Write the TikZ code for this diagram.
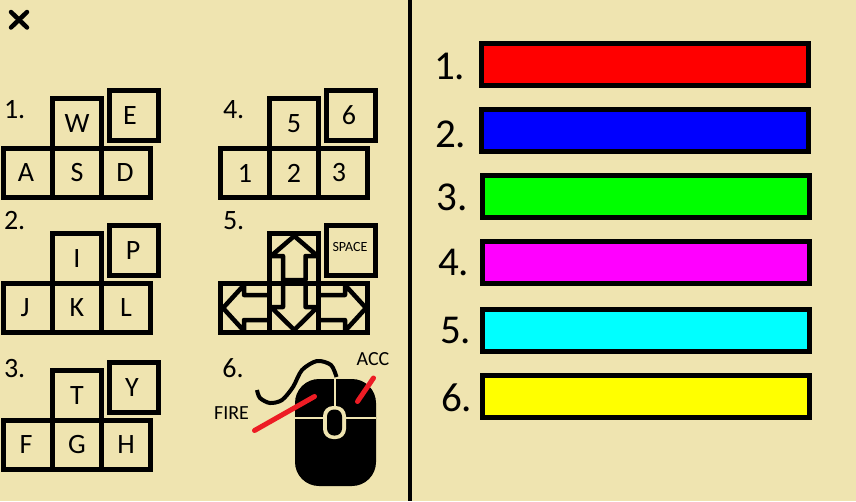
\documentclass[tikz,border=0pt]{standalone}
\usepackage{fontspec}
\setmainfont{Carlito}
\usepackage{xcolor}
\usepackage{tikz}
\usetikzlibrary{positioning}
\definecolor{paper}{RGB}{239, 228, 176}
\definecolor{markred}{RGB}{237, 28, 36}
\definecolor{barred}{RGB}{255, 0, 0}
\definecolor{barblue}{RGB}{0, 0, 255}
\definecolor{bargreen}{RGB}{0, 255, 0}
\definecolor{barmagenta}{RGB}{255, 0, 255}
\definecolor{barcyan}{RGB}{0, 255, 255}
\definecolor{baryellow}{RGB}{255, 255, 0}
\newcommand{\fsz}[1]{\fontsize{#1}{#1}\selectfont}
\newcommand{\nudgekey}[2]{\kern-#1\relax #2}

\begin{document}
\begin{tikzpicture}[
      x=1pt, y=-1pt,
      keybox/.style={
        rectangle, draw=black, line width=5pt, outer sep=0pt, inner sep=0pt,
        minimum width=49pt, minimum height=49.5pt,
        font=\fsz{28}, text=black, align=center
      },
      barbox/.style={
        rectangle, draw=black, line width=5pt, outer sep=0pt,
        minimum width=327pt, minimum height=42pt
      },
      smallnum/.style={inner sep=0pt, font=\fsz{28}, text=black},
      bignum/.style={inner sep=0pt, font=\fsz{41}, text=black},
      marklabel/.style={inner sep=0pt, font=\fsz{20}, text=black},
      keyarrow/.style={draw=black, line width=4.5pt, line join=round},
      markline/.style={draw=markred, line width=5pt, line cap=round}
  ]
    \fill[paper] (0,0) rectangle (856,501);
    \useasboundingbox (0,0) rectangle (856,501);

    % close mark and divider
    \draw[line width=4.5pt, line cap=round] (11,12) -- (27,27.5);
    \draw[line width=4.5pt, line cap=round] (27,12) -- (11,27.5);
    \draw[line width=4pt] (410,0) -- (410,501);

    % key group 1
    \node[keybox] (a) at (28,173) {\nudgekey{4pt}{A}};
    \node[keybox] (s) [right=0pt of a] {S};
    \node[keybox] (d) [right=0pt of s] {\nudgekey{2pt}{D}};
    \node[keybox] (w) [above=0pt of s] {W};
    \node[keybox] (e) [right=8pt of w, yshift=8pt] {\nudgekey{8pt}{E}};
    \node[smallnum] (num1) [left=27pt of w, yshift=14pt] {1.};

    % key group 2
    \node[keybox] (j) at (28,308) {\nudgekey{6pt}{J}};
    \node[keybox] (k) [right=0pt of j] {K};
    \node[keybox] (l) [right=0pt of k] {L};
    \node[keybox] (i) [above=0pt of k] {I};
    \node[keybox] (p) [right=8pt of i, yshift=8pt] {\nudgekey{2pt}{P}};
    \node[smallnum] (num2) [left=27pt of i, yshift=38pt] {2.};

    % key group 3
    \node[keybox] (f) at (28,445) {\nudgekey{4pt}{F}};
    \node[keybox] (g) [right=0pt of f] {G};
    \node[keybox] (h) [right=0pt of g] {H};
    \node[keybox] (t) [above=0pt of g] {T};
    \node[keybox] (y) [right=8pt of t, yshift=8pt] {\nudgekey{4pt}{Y}};
    \node[smallnum] (num3) [left=27pt of t, yshift=26.5pt] {3.};

    % key group 4
    \node[keybox] (k1) at (245,173) {1};
    \node[keybox] (k2) [right=0pt of k1] {2};
    \node[keybox] (k3) [right=0pt of k2] {\nudgekey{8pt}{3}};
    \node[keybox] (k5) [above=0pt of k2] {5};
    \node[keybox] (k6) [right=8pt of k5, yshift=8pt] {\nudgekey{4pt}{6}};
    \node[smallnum] (num4) [left=25pt of k5, yshift=14pt] {4.};

    % key group 5
    \node[keybox] (left) at (245,308) {};
    \node[keybox] (down) [right=0pt of left] {};
    \node[keybox] (right) [right=0pt of down] {};
    \node[keybox] (up) [above=0pt of down] {};
    \node[keybox, font=\fsz{14}] (space) [right=8pt of up, yshift=8pt] {\raisebox{7pt}{\nudgekey{2pt}{SPACE}}};
    \node[smallnum] (num5) [left=25pt of up, yshift=38pt] {5.};
    \draw[keyarrow] (283,280) -- (283,256) -- (271,256) -- (294.25,236) -- (317.5,256) -- (305.5,256) -- (305.5,280) -- cycle;
    \draw[keyarrow] (283,283) -- (283,307) -- (271,307) -- (294.25,330) -- (317.5,307) -- (305.5,307) -- (305.5,283);
    \draw[keyarrow] (267,295) -- (244,295) -- (244,285) -- (223,308) -- (244,331) -- (244,320) -- (267,320);
    \draw[keyarrow] (321,295) -- (345,295) -- (345,285) -- (366,308) -- (345,331) -- (345,320) -- (321,320);

    % mouse
    \node[smallnum] (num6) at (233,368.5) {6.};
    \fill[black, rounded corners=24pt] (295,379) rectangle (376,486);
    \draw[paper, line width=2pt] (335,379) -- (335,408);
    \draw[paper, line width=2pt] (295,418) -- (376,418);
    \fill[paper, rounded corners=10pt] (323,406) rectangle (346,439);
    \fill[black, rounded corners=7pt] (327,409.5) rectangle (342,435.5);
    \draw[paper, line width=6pt] plot[smooth] coordinates {(300,370) (293,387) (282,400)};
    \draw[black, line width=4pt] plot[smooth] coordinates {(336.5,377) (331,365) (317,361) (302,370) (293,387) (282,400) (270,403) (260,398) (257,390)};

    % mouse marks
    \node[marklabel] (fire) at (231.5,413) {FIRE};
    \node[marklabel] (acc) at (373,359) {ACC};
    \coordinate (firestart) at (254.5,430.5);
    \coordinate (fireend) at (314.5,396.5);
    \coordinate (accstart) at (357.5,401.5);
    \coordinate (accend) at (373.5,378);
    \draw[markline] (firestart) -- (fireend);
    \draw[markline] (accstart) -- (accend);

    % colour bars
    \node[barbox, fill=barred] (bar1) at (645,64.5) {};
    \node[barbox, fill=barblue] (bar2) [below=24pt of bar1] {};
    \node[barbox, fill=bargreen] (bar3) [below=24pt of bar2, xshift=1pt] {};
    \node[barbox, fill=barmagenta] (bar4) [below=24pt of bar3] {};
    \node[barbox, fill=barcyan] (bar5) [below=26pt of bar4] {};
    \node[barbox, fill=baryellow] (bar6) [below=24pt of bar5] {};

    \node[bignum] (big1) [left=16pt of bar1, yshift=-1.5pt] {1.};
    \node[bignum] (big2) [left=15pt of bar2, yshift=-4pt] {2.};
    \node[bignum] (big3) [left=14.5pt of bar3, yshift=-1pt] {3.};
    \node[bignum] (big4) [left=13pt of bar4] {4.};
    \node[bignum] (big5) [left=11pt of bar5] {5.};
    \node[bignum] (big6) [left=10pt of bar6, yshift=-1.5pt] {6.};
  \end{tikzpicture}
\end{document}
